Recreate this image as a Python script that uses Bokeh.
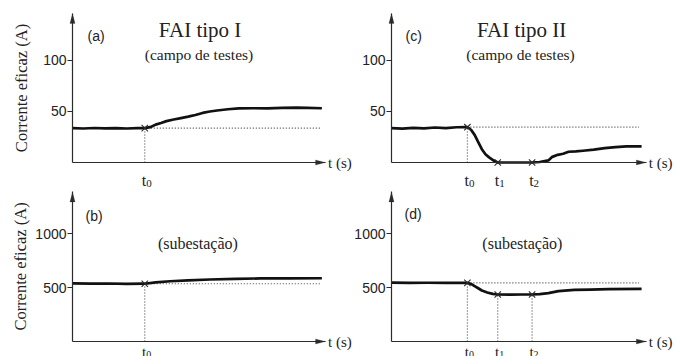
from bokeh.plotting import figure
from bokeh.layouts import column, row
from bokeh.models import Range1d, FixedTicker, Label, PolyAnnotation
from bokeh.embed import file_html
from bokeh.resources import INLINE

# ---- data: RMS current versus time (arbitrary time base, seconds) ----
# (a) FAI tipo I, campo de testes
a_t = [0.0, 0.3, 0.6, 0.9, 1.2, 1.5, 1.8, 2.0, 2.15, 2.3, 2.45, 2.6, 2.8, 3.0,
       3.2, 3.4, 3.6, 3.8, 4.0, 4.3, 4.6, 5.0, 5.4, 5.8, 6.2, 6.5, 6.9]
a_i = [33.6, 33.2, 33.7, 33.3, 33.6, 33.2, 33.5, 33.6, 34.5, 37.0, 38.6, 40.4,
       42.0, 43.4, 44.8, 46.4, 48.4, 49.8, 50.8, 52.0, 52.8, 53.0, 52.8, 53.3,
       53.6, 53.4, 53.0]
a_events = [2.0]

# (b) FAI tipo I, subestação
b_t = [0.0, 0.5, 1.0, 1.5, 2.0, 2.3, 2.7, 3.2, 3.8, 4.5, 5.2, 6.0, 6.9]
b_i = [540, 538, 539, 536, 537, 550, 560, 568, 576, 582, 586, 587, 588]
b_events = [2.0]

# (c) FAI tipo II, campo de testes
c_t = [0.0, 0.3, 0.6, 0.9, 1.2, 1.5, 1.8, 2.1, 2.2, 2.3, 2.4, 2.5, 2.6, 2.7,
       2.8, 2.94, 3.2, 3.5, 3.89, 4.1, 4.34, 4.45, 4.6, 4.75, 4.9, 5.1, 5.3,
       5.6, 5.9, 6.2, 6.5, 6.92]
c_i = [33.5, 33.0, 33.8, 33.3, 34.2, 33.6, 34.4, 34.5, 32.0, 27.0, 20.0, 13.0,
       8.0, 5.0, 2.5, 0.0, 0.0, 0.0, 0.0, 0.5, 2.0, 5.5, 7.5, 8.5, 10.5, 10.8,
       11.5, 12.5, 14.0, 15.0, 15.8, 15.8]
c_events = [2.1, 2.94, 3.89]

# (d) FAI tipo II, subestação
d_t = [0.0, 0.5, 1.0, 1.5, 2.1, 2.2, 2.3, 2.4, 2.5, 2.65, 2.8, 2.94, 3.3, 3.6,
       3.89, 4.1, 4.34, 4.62, 5.06, 5.5, 6.0, 6.92]
d_i = [548, 545, 546, 544, 545, 535, 515, 495, 474, 456, 443, 437, 436, 437,
       437, 440, 449, 468, 479, 483, 486, 489]
d_events = [2.1, 2.94, 3.89]

event_names = ["0", "1", "2"]
ticks_top = [50, 100]
ticks_bottom = [500, 1000]

# ---- layout constants ----
SX = 36.14          # px per second
SY_TOP = 1.024      # px per ampere, field-test panels
SY_BOT = 0.1076     # px per ampere, substation panels
INK = "#2b2b2b"
TXT = "#222222"
SERIF = "Liberation Serif"
SANS = "Liberation Sans"


def panel(t, i, events, ticks, width, height, ax_x, ax_y, sy, x_tip, y_tip,
          ylabel=None, ylabel_standoff=0, t_drop=20, t_size=16, sub_size=11):
    # the frame fills the whole canvas; the axes sit at t = 0 and I = 0
    p = figure(width=width, height=height, output_backend="svg",
               toolbar_location=None, tools="",
               x_range=Range1d(-ax_x / SX, (width - ax_x) / SX),
               y_range=Range1d(-(height - ax_y) / sy, ax_y / sy),
               min_border=0)
    p.outline_line_color = None
    p.grid.visible = False
    p.background_fill_color = "white"

    ya = p.yaxis[0]
    ya.fixed_location = 0
    ya.ticker = FixedTicker(ticks=ticks)
    ya.bounds = (0, y_tip)
    ya.axis_line_color = INK
    ya.axis_line_width = 1.2
    ya.major_tick_line_color = INK
    ya.major_tick_out = 5
    ya.major_tick_in = 0
    ya.minor_tick_line_color = None
    ya.major_label_standoff = 1
    ya.major_label_text_font = SANS
    ya.major_label_text_font_size = "14px"
    ya.major_label_text_color = TXT
    if ylabel:
        ya.axis_label = ylabel
        ya.axis_label_text_font = SERIF
        ya.axis_label_text_font_size = "16.5px"
        ya.axis_label_text_font_style = "normal"
        ya.axis_label_text_color = TXT
        ya.axis_label_standoff = ylabel_standoff

    xa = p.xaxis[0]
    xa.fixed_location = 0
    xa.ticker = FixedTicker(ticks=[])
    xa.bounds = (0, x_tip)
    xa.axis_line_color = INK
    xa.axis_line_width = 1.2
    xa.major_tick_line_color = None
    xa.minor_tick_line_color = None

    # arrow heads at the ends of both axes
    hl, hw = 10.0, 2.6
    p.add_layout(PolyAnnotation(
        xs=[0, -hw / SX, hw / SX], ys=[y_tip, y_tip - hl / sy, y_tip - hl / sy],
        fill_color=INK, fill_alpha=1, line_color=INK, line_width=0.5))
    p.add_layout(PolyAnnotation(
        xs=[x_tip, x_tip - hl / SX, x_tip - hl / SX], ys=[0, hw / sy, -hw / sy],
        fill_color=INK, fill_alpha=1, line_color=INK, line_width=0.5))

    level = dict(zip(t, i))
    t0 = events[0]
    # pre-fault reference level
    p.line([t0, 6.85], [level[t0], level[t0]], line_dash="1 2", line_width=1.1,
           line_color="#444444")
    # event instants
    for te in events:
        if level[te] > 0:
            p.line([te, te], [0, level[te]], line_dash="1 2", line_width=1.1,
                   line_color="#444444")
    p.line(t, i, line_width=2.7, line_color="#111111", line_join="round")
    p.scatter(events, [level[te] for te in events], marker="x",
              size=9, line_width=1.1, line_color=INK)

    for k, te in enumerate(events):
        p.add_layout(Label(x=te, y=-t_drop / sy, x_offset=1.5, text="t",
                           text_align="right", text_baseline="alphabetic",
                           text_font=SERIF, text_font_size=f"{t_size}px",
                           text_color=TXT))
        p.add_layout(Label(x=te, y=-(t_drop + 2.5) / sy, x_offset=1.5,
                           text=event_names[k], text_align="left",
                           text_baseline="alphabetic", text_font=SERIF,
                           text_font_size=f"{sub_size}px", text_color=TXT))

    p.add_layout(Label(x=x_tip + 2.5 / SX, y=0, text="t (s)", text_align="left",
                       text_baseline="middle", text_font=SERIF,
                       text_font_size="15px", text_color=TXT))
    return p


TOP_H, BOT_H = 188, 168

# field-test row
pa = panel(a_t, a_i, a_events, ticks_top, 353, TOP_H, 72, 162, SY_TOP, 7.0, 145.5,
           ylabel="Corrente eficaz (A)", ylabel_standoff=9, t_drop=18)
pc = panel(c_t, c_i, c_events, ticks_top, 329, TOP_H, 38, 162, SY_TOP, 7.05, 145.5,
           t_drop=18)
# substation row
pb = panel(b_t, b_i, b_events, ticks_bottom, 353, BOT_H, 72, 341 - TOP_H, SY_BOT,
           7.0, 1390, ylabel="Corrente eficaz (A)", ylabel_standoff=2, t_drop=10.5,
           t_size=15, sub_size=10)
pd = panel(d_t, d_i, d_events, ticks_bottom, 329, BOT_H, 38, 341 - TOP_H, SY_BOT,
           7.05, 1390, t_drop=10.5, t_size=15, sub_size=10)

# panel tags and captions
for p, tag, x_tag, y_tag in [(pa, "(a)", 0.415, 123.4),
                             (pc, "(c)", 0.39, 123.4),
                             (pb, "(b)", 0.36, 1168),
                             (pd, "(d)", 0.36, 1185)]:
    p.add_layout(Label(x=x_tag, y=y_tag, text=tag, text_align="left",
                       text_baseline="alphabetic", text_font=SANS,
                       text_font_size="14px", text_color=TXT))

for p, title, xc in [(pa, "FAI tipo I", 3.53), (pc, "FAI tipo II", 3.60)]:
    p.add_layout(Label(x=xc, y=129, text=title, text_align="center",
                       text_baseline="alphabetic", text_font=SERIF,
                       text_font_size="21px", text_color=TXT))
for p, xc in [(pa, 3.50), (pc, 3.57)]:
    p.add_layout(Label(x=xc, y=105.5, text="(campo de testes)", text_align="center",
                       text_baseline="alphabetic", text_font=SERIF,
                       text_font_size="15.5px", text_color=TXT))
for p, xc in [(pb, 3.47), (pd, 3.62)]:
    p.add_layout(Label(x=xc, y=907, text="(subestação)", text_align="center",
                       text_baseline="alphabetic", text_font=SERIF,
                       text_font_size="16px", text_color=TXT))

layout = column(row(pa, pc), row(pb, pd))
open("out.html", "w").write(file_html(layout, INLINE))
